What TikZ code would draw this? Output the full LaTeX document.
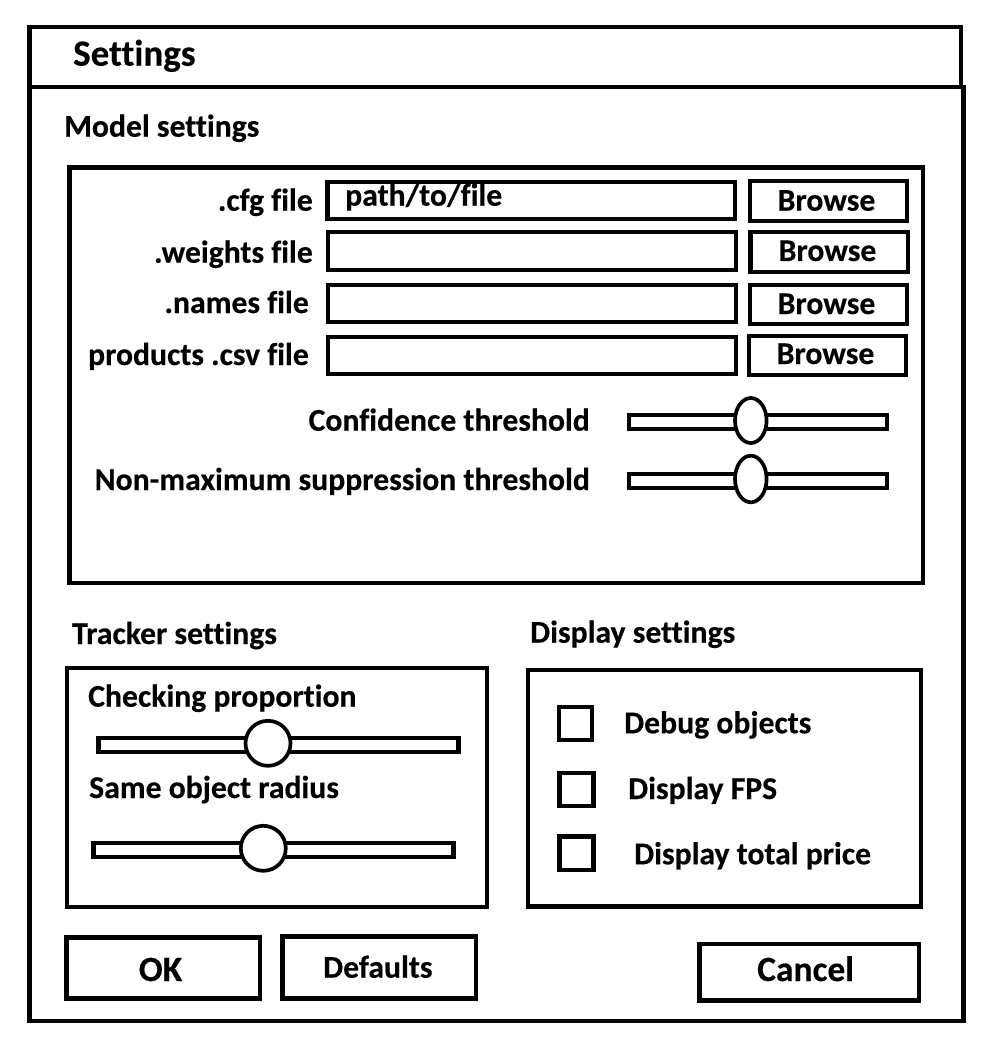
\documentclass[tikz,border=0pt]{standalone}
\usepackage{fontspec}
\setmainfont{Carlito}[Ligatures={NoCommon}, BoldFeatures={FakeBold=0.35}]
\begin{document}
\begin{tikzpicture}[x=1pt,y=-1pt,
  box/.style={draw=black, line width=4.3pt},
  knob/.style={draw=black, fill=white, line width=3.7pt},
  lbl/.style={inner sep=0pt, font=\fontsize{31.7}{36}\selectfont\bfseries},
  biglbl/.style={inner sep=0pt, font=\fontsize{35.5}{40}\selectfont\bfseries},
  titlelbl/.style={inner sep=0pt, font=\fontsize{37}{42}\selectfont\bfseries}]
\useasboundingbox[fill=white] (0,0) rectangle (994,1056);

% window
\draw[box] (29.5,27) rectangle (961,87);
\draw[box] (29.5,87) rectangle (963.5,1021);
\node[titlelbl, anchor=base west] (title) at (73,65.7) {Settings};

% model settings
\node[lbl, anchor=base west] (modelhd) at (64,136.7) {Model settings};
\draw[box] (69.5,167.5) rectangle (923,583);

\draw[box] (327.5,182) rectangle (735,219);
\draw[box] (328,232) rectangle (736,270);
\draw[box] (328,285) rectangle (736,322);
\draw[box] (328,337) rectangle (736,374);

\draw[box] (750,181) rectangle (907,221);
\draw[box] (750.5,232) rectangle (908,272);
\draw[box] (750,285) rectangle (907,324);
\draw[box] (749,336) rectangle (906,375);

\node[lbl, anchor=base] (br1) at (826.5,210.7) {Browse};
\node[lbl, anchor=base] (br2) at (827.5,261) {Browse};
\node[lbl, anchor=base] (br3) at (826.5,314) {Browse};
\node[lbl, anchor=base] (br4) at (825.5,364) {Browse};

\node[lbl, anchor=base east] (cfg) at (313,210.7) {.cfg file};
\node[lbl, anchor=base east] (weights) at (313,262.7) {.weights file};
\node[lbl, anchor=base east] (names) at (309,313) {.names file};
\node[lbl, anchor=base east] (csv) at (309,365) {products .csv file};
\node[lbl, anchor=base west] (path) at (345,205.7) {path/to/file};

\node[lbl, anchor=base east] (conf) at (590,430.7) {Confidence threshold};
\node[lbl, anchor=base east] (nms) at (590,490) {Non-maximum suppression threshold};

\draw[box] (629,415) rectangle (887,429);
\draw[knob] (750.8,420.5) ellipse[x radius=15.8, y radius=22.5];
\draw[box] (629,474) rectangle (887,488);
\draw[knob] (750.8,479) ellipse[x radius=15.8, y radius=23.3];

% tracker settings
\node[lbl, anchor=base west] (trackhd) at (72,644) {Tracker settings};
\draw[box] (67,668) rectangle (487,907);
\node[lbl, anchor=base west] (checkp) at (88,706.7) {Checking proportion};
\draw[box] (98.5,738) rectangle (458.5,752);
\draw[knob] (268,743.3) circle[radius=22.5];
\node[lbl, anchor=base west] (radius) at (89,798) {Same object radius};
\draw[box] (93.5,843) rectangle (453.5,857);
\draw[knob] (263.3,848.3) circle[radius=22.5];

% display settings
\node[lbl, anchor=base west] (disphd) at (530,642.7) {Display settings};
\draw[box] (528,670) rectangle (921,906.5);
\draw[box] (559,707) rectangle (592,740);
\draw[box] (559.5,773) rectangle (593.5,806);
\draw[box] (559.5,836.5) rectangle (593.5,870);
\node[lbl, anchor=base west] (debug) at (624,733.3) {Debug objects};
\node[lbl, anchor=base west] (fps) at (628,799) {Display FPS};
\node[lbl, anchor=base west] (price) at (634,864.3) {Display total price};

% buttons
\draw[box] (66.5,937.5) rectangle (260,998.5);
\node[biglbl, anchor=base] (ok) at (160.5,981) {OK};
\draw[box] (282.5,936.5) rectangle (476,998.5);
\node[lbl, anchor=base west] (defaults) at (323,977.7) {Defaults};
\draw[box] (699.5,944) rectangle (919,1000.5);
\node[biglbl, anchor=base west] (cancel) at (757,981) {Cancel};
\end{tikzpicture}
\end{document}
